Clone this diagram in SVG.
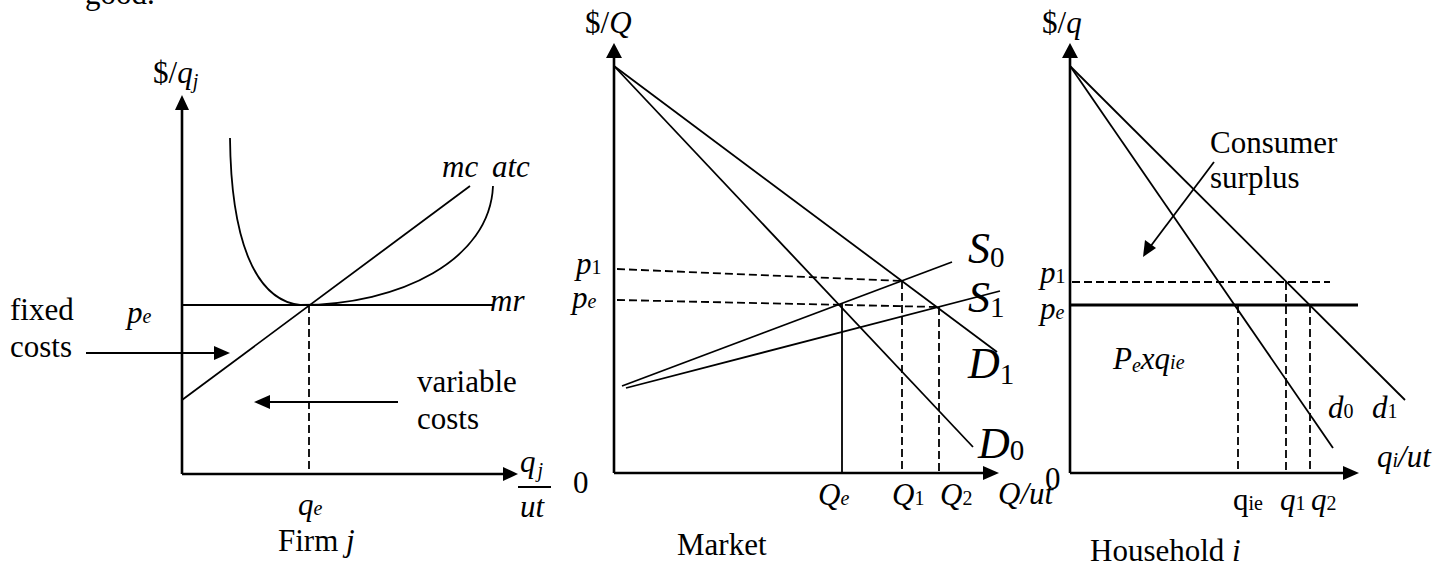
<svg xmlns="http://www.w3.org/2000/svg" width="1443" height="563" viewBox="0 0 1443 563">
<style>
text{font-family:"Liberation Serif","Times New Roman",serif;font-size:31px;fill:#000}
.i{font-style:italic}
.sub{font-size:20px;font-style:normal}
.subi{font-size:20px;font-style:italic}
.big{font-size:44px;font-style:italic}
.bsub{font-size:29px;font-style:normal}
.ax{stroke:#000;stroke-width:2.6;fill:none}
.ln{stroke:#000;stroke-width:1.8;fill:none}
.dash{stroke:#000;stroke-width:1.8;fill:none;stroke-dasharray:8 4}
.ah{fill:#000}
</style>
<rect width="1443" height="563" fill="#fff"/>
<text x="85" y="4">good.</text>

<g id="firm">
  <line class="ax" x1="182" y1="474" x2="182" y2="108"/>
  <polygon class="ah" points="182,95 175,110 189,110"/>
  <line class="ax" x1="182" y1="474" x2="504" y2="474"/>
  <polygon class="ah" points="518,474 503,467 503,481"/>
  <text x="153" y="83">$/<tspan class="i">q</tspan><tspan class="subi" dy="5">j</tspan></text>
  <path class="ln" d="M230,138 C231,240 255,300 300,305 C400,305 490,260 493,186"/>
  <line class="ln" x1="182" y1="400" x2="470" y2="186"/>
  <line class="ln" x1="182" y1="305" x2="493" y2="305"/>
  <line class="dash" x1="309" y1="305" x2="309" y2="474"/>
  <text class="i" x="442" y="177">mc</text>
  <text class="i" x="492" y="177">atc</text>
  <text class="i" x="490" y="311">mr</text>
  <text x="127" y="323"><tspan class="i">p</tspan><tspan class="subi">e</tspan></text>
  <text x="10" y="320">fixed</text>
  <text x="10" y="357">costs</text>
  <line class="ln" x1="86" y1="353" x2="216" y2="353"/>
  <polygon class="ah" points="230,353 214,346 214,360"/>
  <text x="417" y="392">variable</text>
  <text x="417" y="429">costs</text>
  <line class="ln" x1="398" y1="402" x2="268" y2="402"/>
  <polygon class="ah" points="254,402 270,395 270,409"/>
  <text x="298" y="515"><tspan class="i">q</tspan><tspan class="subi">e</tspan></text>
  <text x="520" y="472"><tspan class="i">q</tspan><tspan class="subi" dx="2" dy="5">j</tspan></text>
  <line x1="518" y1="487" x2="551" y2="487" stroke="#000" stroke-width="1.8"/>
  <text class="i" x="520" y="517">ut</text>
  <text x="278" y="551">Firm <tspan class="i">j</tspan></text>
</g>

<g id="market">
  <line class="ax" x1="614" y1="473" x2="614" y2="56"/>
  <polygon class="ah" points="614,43 606,58 622,58"/>
  <line class="ax" x1="614" y1="473" x2="985" y2="473"/>
  <polygon class="ah" points="999,473 983,466 983,480"/>
  <text x="585" y="33">$/<tspan class="i">Q</tspan></text>
  <line class="ln" x1="614" y1="66" x2="973" y2="447"/>
  <line class="ln" x1="614" y1="66" x2="997" y2="352"/>
  <line class="ln" x1="622" y1="386" x2="952" y2="262"/>
  <line class="ln" x1="626" y1="388" x2="1000" y2="291"/>
  <line class="dash" x1="617" y1="269" x2="902" y2="281"/>
  <line class="dash" x1="617" y1="300" x2="938" y2="307"/>
  <line class="ln" x1="842" y1="303" x2="842" y2="473"/>
  <line class="dash" x1="902" y1="281" x2="902" y2="473"/>
  <line class="dash" x1="939" y1="307" x2="939" y2="473"/>
  <text x="576" y="274"><tspan class="i">p</tspan><tspan class="sub">1</tspan></text>
  <text x="572" y="308"><tspan class="i">p</tspan><tspan class="subi">e</tspan></text>
  <text x="573" y="493">0</text>
  <text class="big" x="968" y="263">S<tspan class="bsub" dy="4">0</tspan></text>
  <text class="big" x="968" y="312">S<tspan class="bsub" dy="5">1</tspan></text>
  <text class="big" x="968" y="378">D<tspan class="bsub" dy="6">1</tspan></text>
  <text class="big" x="978" y="458">D<tspan class="bsub" dy="2">0</tspan></text>
  <text x="818" y="505"><tspan class="i">Q</tspan><tspan class="subi">e</tspan></text>
  <text x="892" y="505"><tspan class="i">Q</tspan><tspan class="sub">1</tspan></text>
  <text x="940" y="505"><tspan class="i">Q</tspan><tspan class="sub">2</tspan></text>
  <text class="i" x="998" y="504">Q/ut</text>
  <text x="677" y="555">Market</text>
</g>

<g id="household">
  <line class="ax" x1="1070" y1="473" x2="1070" y2="56"/>
  <polygon class="ah" points="1070,43 1062,58 1078,58"/>
  <line class="ax" x1="1070" y1="473" x2="1345" y2="473"/>
  <polygon class="ah" points="1359,473 1343,466 1343,480"/>
  <text x="1042" y="33">$/<tspan class="i">q</tspan></text>
  <line class="ln" x1="1070" y1="66" x2="1333" y2="448"/>
  <line class="ln" x1="1070" y1="66" x2="1405" y2="400"/>
  <line class="dash" x1="1072" y1="282" x2="1330" y2="282"/>
  <line x1="1070" y1="305" x2="1358" y2="305" stroke="#000" stroke-width="3"/>
  <line class="dash" x1="1238" y1="305" x2="1238" y2="473"/>
  <line class="dash" x1="1286" y1="282" x2="1286" y2="473"/>
  <line class="dash" x1="1310" y1="305" x2="1310" y2="473"/>
  <text x="1210" y="153">Consumer</text>
  <text x="1210" y="188">surplus</text>
  <line class="ln" x1="1214" y1="162" x2="1150" y2="247"/>
  <polygon class="ah" points="1143,257 1145,240 1156,248"/>
  <text x="1040" y="283"><tspan class="i">p</tspan><tspan class="sub">1</tspan></text>
  <text x="1040" y="319"><tspan class="i">p</tspan><tspan class="subi">e</tspan></text>
  <text x="1045" y="489">0</text>
  <text x="1113" y="369"><tspan class="i">P</tspan><tspan class="subi" dy="3">e</tspan><tspan class="i" dy="-3">xq</tspan><tspan class="subi">ie</tspan></text>
  <text x="1328" y="418"><tspan class="i">d</tspan><tspan class="sub">0</tspan></text>
  <text x="1372" y="418"><tspan class="i">d</tspan><tspan class="sub">1</tspan></text>
  <text x="1377" y="467"><tspan class="i">q</tspan><tspan class="subi">i</tspan><tspan class="i">/ut</tspan></text>
  <text x="1233" y="510">q<tspan class="sub">ie</tspan></text>
  <text x="1280" y="510"><tspan class="i">q</tspan><tspan class="sub">1</tspan></text>
  <text x="1311" y="510"><tspan class="i">q</tspan><tspan class="sub">2</tspan></text>
  <text x="1090" y="561">Household <tspan class="i">i</tspan></text>
</g>
</svg>
